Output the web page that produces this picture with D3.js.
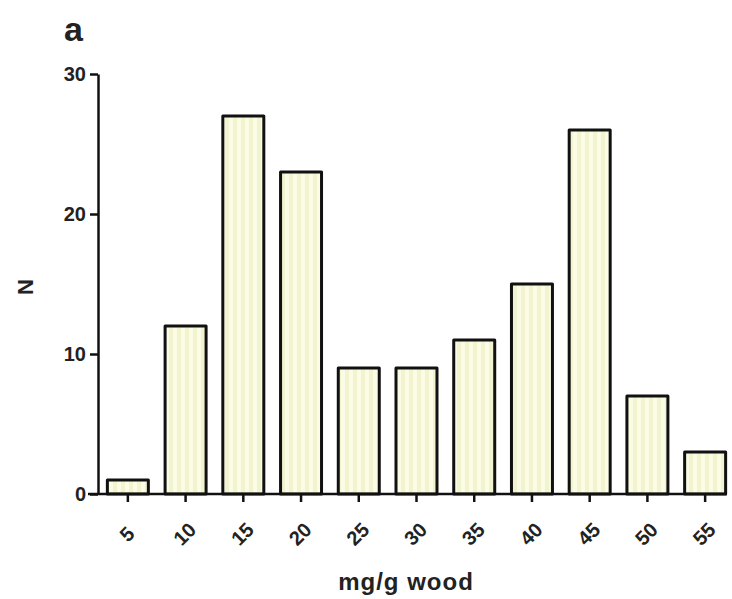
<!DOCTYPE html>
<html>
<head>
<meta charset="utf-8">
<script src="https://cdn.jsdelivr.net/npm/d3@7"></script>
<style>
    body { margin: 0; background: #fff; }
    text { font-family: "Liberation Sans", Arial, sans-serif; font-weight: bold; fill: #222; }
</style>
</head>
<body>
<div id="chart"></div>
<script>
const categories = ["5","10","15","20","25","30","35","40","45","50","55"];
const counts = [1, 12, 27, 23, 9, 9, 11, 15, 26, 7, 3];
const yTicks = [0, 10, 20, 30];

const width = 732;
const height = 599;

const svg = d3.select("#chart")
    .append("svg")
    .attr("width", width)
    .attr("height", height);

// vertical pale-yellow stripes like the original bars
const pattern = svg.append("defs")
    .append("pattern")
    .attr("id", "stripes")
    .attr("patternUnits", "userSpaceOnUse")
    .attr("width", 8)
    .attr("height", 8);
pattern.append("rect").attr("width", 8).attr("height", 8).attr("fill", "#fbfbe6");
pattern.append("rect").attr("x", 1).attr("width", 4).attr("height", 8).attr("fill", "#f2f4cf");

const xScale = d3.scaleBand()
    .domain(categories)
    .range([99, 734])
    .paddingInner(0.29)
    .paddingOuter(0.145);

const yScale = d3.scaleLinear()
    .domain([0, 30])
    .range([494, 74]);

// bars
svg.selectAll(".bar")
    .data(counts)
    .enter()
    .append("rect")
    .attr("class", "bar")
    .attr("x", (d, i) => xScale(categories[i]))
    .attr("y", d => yScale(d))
    .attr("width", xScale.bandwidth())
    .attr("height", d => yScale(0) - yScale(d))
    .attr("fill", "url(#stripes)")
    .attr("stroke", "#111")
    .attr("stroke-width", 3)
    .attr("stroke-linejoin", "round");

// y axis
const yAxis = svg.append("g")
    .attr("transform", "translate(98,0)")
    .call(d3.axisLeft(yScale).tickValues(yTicks).tickSize(8).tickPadding(4).tickSizeOuter(0));
yAxis.select(".domain").attr("stroke", "#111").attr("stroke-width", 2.5);
yAxis.selectAll(".tick line").attr("stroke", "#111").attr("stroke-width", 2.5);
yAxis.selectAll(".tick text").attr("font-size", 20).attr("fill", "#222");

// x axis
const xAxis = svg.append("g")
    .attr("transform", "translate(0,494)")
    .call(d3.axisBottom(xScale).tickSize(8).tickSizeOuter(0));
xAxis.select(".domain").attr("d", "M88,0H727").attr("stroke", "#111").attr("stroke-width", 2.5);
xAxis.selectAll(".tick line").attr("stroke", "#111").attr("stroke-width", 2.5);
xAxis.selectAll(".tick text")
    .attr("font-size", 20)
    .attr("fill", "#222")
    .attr("text-anchor", "middle")
    .attr("dy", "0.35em")
    .attr("y", null)
    .attr("transform", "translate(-1,40) rotate(-45)");

// labels
svg.append("text")
    .attr("x", 406)
    .attr("y", 590)
    .attr("text-anchor", "middle")
    .attr("font-size", 24)
    .attr("letter-spacing", 1)
    .text("mg/g wood");

svg.append("text")
    .attr("transform", "translate(33,287) rotate(-90)")
    .attr("text-anchor", "middle")
    .attr("font-size", 22)
    .text("N");

svg.append("text")
    .attr("x", 64)
    .attr("y", 41)
    .attr("font-size", 34)
    .text("a");
</script>
</body>
</html>
